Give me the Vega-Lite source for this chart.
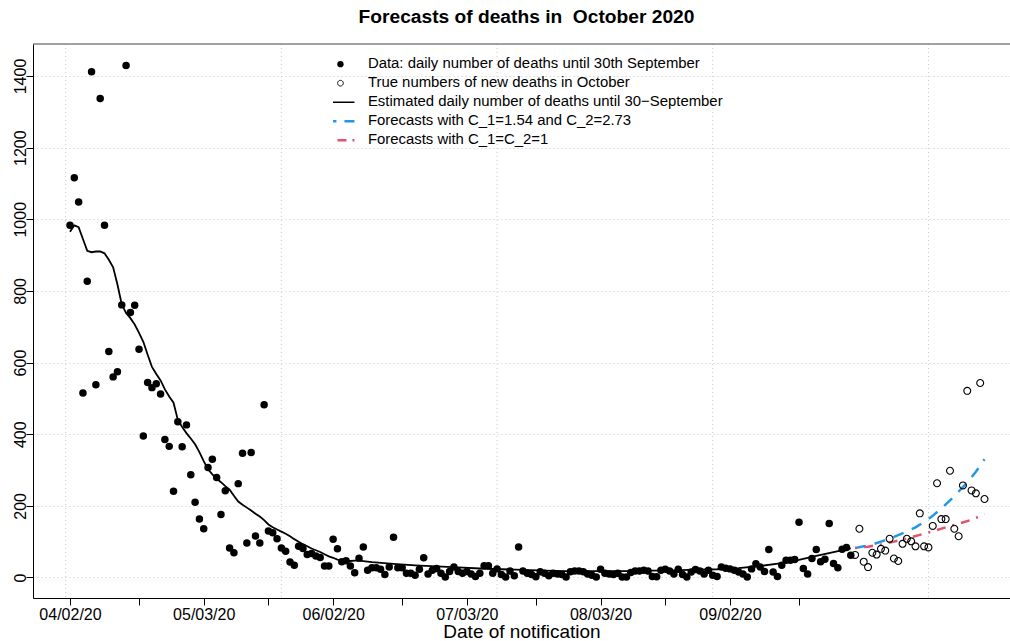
{
  "$schema": "https://vega.github.io/schema/vega-lite/v6.json",
  "width": 977,
  "height": 554,
  "autosize": {"type": "none"},
  "padding": {"left": 33, "top": 44, "right": 0, "bottom": 43},
  "background": "white",
  "config": {"view": {"stroke": null}, "font": "Liberation Sans"},
  "title": {"text": "Forecasts of deaths in \u00a0October 2020", "font": "Liberation Sans", "fontSize": 19.2, "fontWeight": "bold", "color": "black", "anchor": "middle", "frame": "group", "dx": 5, "offset": 16},
  "datasets": {
    "obs": [
      {"d":"2020-04-02","n":983},{"d":"2020-04-03","n":1116},{"d":"2020-04-04","n":1048},{"d":"2020-04-05","n":515},{"d":"2020-04-06","n":827},{"d":"2020-04-07","n":1412},{"d":"2020-04-08","n":538},{"d":"2020-04-09","n":1337},{"d":"2020-04-10","n":983},{"d":"2020-04-11","n":631},{"d":"2020-04-12","n":560},{"d":"2020-04-13","n":574},{"d":"2020-04-14","n":761},{"d":"2020-04-15","n":1429},{"d":"2020-04-16","n":740},{"d":"2020-04-17","n":760},{"d":"2020-04-18","n":637},{"d":"2020-04-19","n":395},{"d":"2020-04-20","n":544},{"d":"2020-04-21","n":530},{"d":"2020-04-22","n":541},{"d":"2020-04-23","n":512},{"d":"2020-04-24","n":385},{"d":"2020-04-25","n":366},{"d":"2020-04-26","n":241},{"d":"2020-04-27","n":435},{"d":"2020-04-28","n":365},{"d":"2020-04-29","n":426},{"d":"2020-04-30","n":287},
      {"d":"2020-05-01","n":210},{"d":"2020-05-02","n":163},{"d":"2020-05-03","n":136},{"d":"2020-05-04","n":307},{"d":"2020-05-05","n":330},{"d":"2020-05-06","n":279},{"d":"2020-05-07","n":176},{"d":"2020-05-08","n":242},{"d":"2020-05-09","n":82},{"d":"2020-05-10","n":69},{"d":"2020-05-11","n":262},{"d":"2020-05-12","n":347},{"d":"2020-05-13","n":96},{"d":"2020-05-14","n":349},{"d":"2020-05-15","n":116},{"d":"2020-05-16","n":96},{"d":"2020-05-17","n":482},{"d":"2020-05-18","n":130},{"d":"2020-05-19","n":125},{"d":"2020-05-20","n":108},{"d":"2020-05-21","n":82},{"d":"2020-05-22","n":73},{"d":"2020-05-23","n":43},{"d":"2020-05-24","n":34},{"d":"2020-05-25","n":87},{"d":"2020-05-26","n":81},{"d":"2020-05-27","n":64},{"d":"2020-05-28","n":67},{"d":"2020-05-29","n":60},{"d":"2020-05-30","n":56},{"d":"2020-05-31","n":32},
      {"d":"2020-06-01","n":32},{"d":"2020-06-02","n":107},{"d":"2020-06-03","n":80},{"d":"2020-06-04","n":44},{"d":"2020-06-05","n":47},{"d":"2020-06-06","n":32},{"d":"2020-06-07","n":13},{"d":"2020-06-08","n":54},{"d":"2020-06-09","n":85},{"d":"2020-06-10","n":20},{"d":"2020-06-11","n":27},{"d":"2020-06-12","n":27},{"d":"2020-06-13","n":23},{"d":"2020-06-14","n":8},{"d":"2020-06-15","n":29},{"d":"2020-06-16","n":112},{"d":"2020-06-17","n":27},{"d":"2020-06-18","n":27},{"d":"2020-06-19","n":12},{"d":"2020-06-20","n":12},{"d":"2020-06-21","n":6},{"d":"2020-06-22","n":23},{"d":"2020-06-23","n":55},{"d":"2020-06-24","n":10},{"d":"2020-06-25","n":20},{"d":"2020-06-26","n":25},{"d":"2020-06-27","n":12},{"d":"2020-06-28","n":1},{"d":"2020-06-29","n":17},{"d":"2020-06-30","n":29},
      {"d":"2020-07-01","n":17},{"d":"2020-07-02","n":12},{"d":"2020-07-03","n":17},{"d":"2020-07-04","n":10},{"d":"2020-07-05","n":3},{"d":"2020-07-06","n":12},{"d":"2020-07-07","n":33},{"d":"2020-07-08","n":33},{"d":"2020-07-09","n":12},{"d":"2020-07-10","n":24},{"d":"2020-07-11","n":8},{"d":"2020-07-12","n":1},{"d":"2020-07-13","n":18},{"d":"2020-07-14","n":5},{"d":"2020-07-15","n":85},{"d":"2020-07-16","n":18},{"d":"2020-07-17","n":12},{"d":"2020-07-18","n":8},{"d":"2020-07-19","n":2},{"d":"2020-07-20","n":16},{"d":"2020-07-21","n":12},{"d":"2020-07-22","n":5},{"d":"2020-07-23","n":12},{"d":"2020-07-24","n":10},{"d":"2020-07-25","n":8},{"d":"2020-07-26","n":1},{"d":"2020-07-27","n":16},{"d":"2020-07-28","n":18},{"d":"2020-07-29","n":18},{"d":"2020-07-30","n":16},{"d":"2020-07-31","n":10},
      {"d":"2020-08-01","n":6},{"d":"2020-08-02","n":1},{"d":"2020-08-03","n":23},{"d":"2020-08-04","n":12},{"d":"2020-08-05","n":10},{"d":"2020-08-06","n":8},{"d":"2020-08-07","n":12},{"d":"2020-08-08","n":1},{"d":"2020-08-09","n":1},{"d":"2020-08-10","n":14},{"d":"2020-08-11","n":18},{"d":"2020-08-12","n":18},{"d":"2020-08-13","n":20},{"d":"2020-08-14","n":18},{"d":"2020-08-15","n":3},{"d":"2020-08-16","n":2},{"d":"2020-08-17","n":20},{"d":"2020-08-18","n":23},{"d":"2020-08-19","n":18},{"d":"2020-08-20","n":10},{"d":"2020-08-21","n":23},{"d":"2020-08-22","n":8},{"d":"2020-08-23","n":1},{"d":"2020-08-24","n":15},{"d":"2020-08-25","n":22},{"d":"2020-08-26","n":18},{"d":"2020-08-27","n":10},{"d":"2020-08-28","n":20},{"d":"2020-08-29","n":6},{"d":"2020-08-30","n":3},{"d":"2020-08-31","n":29},
      {"d":"2020-09-01","n":26},{"d":"2020-09-02","n":24},{"d":"2020-09-03","n":20},{"d":"2020-09-04","n":15},{"d":"2020-09-05","n":10},{"d":"2020-09-06","n":1},{"d":"2020-09-07","n":24},{"d":"2020-09-08","n":38},{"d":"2020-09-09","n":29},{"d":"2020-09-10","n":17},{"d":"2020-09-11","n":78},{"d":"2020-09-12","n":15},{"d":"2020-09-13","n":3},{"d":"2020-09-14","n":34},{"d":"2020-09-15","n":48},{"d":"2020-09-16","n":48},{"d":"2020-09-17","n":50},{"d":"2020-09-18","n":154},{"d":"2020-09-19","n":25},{"d":"2020-09-20","n":10},{"d":"2020-09-21","n":53},{"d":"2020-09-22","n":78},{"d":"2020-09-23","n":44},{"d":"2020-09-24","n":51},{"d":"2020-09-25","n":151},{"d":"2020-09-26","n":39},{"d":"2020-09-27","n":27},{"d":"2020-09-28","n":79},{"d":"2020-09-29","n":84},{"d":"2020-09-30","n":62}
    ],
    "oct": [
      {"d":"2020-10-01","n":63},{"d":"2020-10-02","n":136},{"d":"2020-10-03","n":44},{"d":"2020-10-04","n":29},{"d":"2020-10-05","n":69},{"d":"2020-10-06","n":64},{"d":"2020-10-07","n":80},{"d":"2020-10-08","n":75},{"d":"2020-10-09","n":108},{"d":"2020-10-10","n":53},{"d":"2020-10-11","n":46},{"d":"2020-10-12","n":94},{"d":"2020-10-13","n":108},{"d":"2020-10-14","n":101},{"d":"2020-10-15","n":87},{"d":"2020-10-16","n":179},{"d":"2020-10-17","n":87},{"d":"2020-10-18","n":84},{"d":"2020-10-19","n":144},{"d":"2020-10-20","n":263},{"d":"2020-10-21","n":163},{"d":"2020-10-22","n":163},{"d":"2020-10-23","n":298},{"d":"2020-10-24","n":136},{"d":"2020-10-25","n":115},{"d":"2020-10-26","n":257},{"d":"2020-10-27","n":521},{"d":"2020-10-28","n":243},{"d":"2020-10-29","n":235},{"d":"2020-10-30","n":543},{"d":"2020-10-31","n":219}
    ],
    "fit": [
      {"d":"2020-04-02","n":965},{"d":"2020-04-03","n":983},{"d":"2020-04-04","n":978},{"d":"2020-04-05","n":945},{"d":"2020-04-06","n":912},{"d":"2020-04-07","n":908},{"d":"2020-04-08","n":910},{"d":"2020-04-09","n":910},{"d":"2020-04-10","n":905},{"d":"2020-04-11","n":887},{"d":"2020-04-12","n":866},{"d":"2020-04-13","n":818},{"d":"2020-04-14","n":762},{"d":"2020-04-15","n":738},{"d":"2020-04-16","n":724},{"d":"2020-04-17","n":706},{"d":"2020-04-18","n":683},{"d":"2020-04-19","n":658},{"d":"2020-04-20","n":622},{"d":"2020-04-21","n":588},{"d":"2020-04-22","n":568},{"d":"2020-04-23","n":550},{"d":"2020-04-24","n":525},{"d":"2020-04-25","n":505},{"d":"2020-04-26","n":488},{"d":"2020-04-27","n":440},{"d":"2020-04-28","n":420},{"d":"2020-04-29","n":403},{"d":"2020-04-30","n":388},
      {"d":"2020-05-01","n":372},{"d":"2020-05-02","n":350},{"d":"2020-05-03","n":325},{"d":"2020-05-04","n":302},{"d":"2020-05-05","n":288},{"d":"2020-05-06","n":276},{"d":"2020-05-07","n":266},{"d":"2020-05-08","n":255},{"d":"2020-05-09","n":245},{"d":"2020-05-10","n":228},{"d":"2020-05-11","n":212},{"d":"2020-05-12","n":203},{"d":"2020-05-13","n":195},{"d":"2020-05-14","n":187},{"d":"2020-05-15","n":178},{"d":"2020-05-16","n":170},{"d":"2020-05-17","n":160},{"d":"2020-05-18","n":148},{"d":"2020-05-19","n":140},{"d":"2020-05-20","n":134},{"d":"2020-05-21","n":128},{"d":"2020-05-22","n":122},{"d":"2020-05-23","n":115},{"d":"2020-05-24","n":107},{"d":"2020-05-25","n":100},{"d":"2020-05-26","n":93},{"d":"2020-05-27","n":87},{"d":"2020-05-28","n":81},{"d":"2020-05-29","n":76},{"d":"2020-05-30","n":71},{"d":"2020-05-31","n":65},
      {"d":"2020-06-01","n":59},{"d":"2020-06-02","n":55},{"d":"2020-06-03","n":50},{"d":"2020-06-04","n":47},{"d":"2020-06-05","n":46},{"d":"2020-06-06","n":46},{"d":"2020-06-07","n":47},{"d":"2020-06-08","n":47},{"d":"2020-06-11","n":43},{"d":"2020-06-16","n":38},{"d":"2020-06-21","n":34},{"d":"2020-06-26","n":31},{"d":"2020-07-01","n":28},{"d":"2020-07-06","n":25},{"d":"2020-07-11","n":23},{"d":"2020-07-16","n":21},{"d":"2020-07-21","n":19},{"d":"2020-07-26","n":18},{"d":"2020-07-31","n":18},{"d":"2020-08-05","n":18},{"d":"2020-08-10","n":18},{"d":"2020-08-15","n":19},{"d":"2020-08-20","n":20},{"d":"2020-08-25","n":22},{"d":"2020-08-30","n":23},{"d":"2020-09-04","n":26},{"d":"2020-09-09","n":32},{"d":"2020-09-14","n":40},{"d":"2020-09-18","n":49},{"d":"2020-09-22","n":60},{"d":"2020-09-26","n":71},{"d":"2020-09-30","n":81}
    ],
    "f1": [
      {"d":"2020-10-01","n":82},{"d":"2020-10-03","n":87},{"d":"2020-10-05","n":92},{"d":"2020-10-07","n":100},{"d":"2020-10-09","n":108},{"d":"2020-10-11","n":118},{"d":"2020-10-13","n":129},{"d":"2020-10-15","n":140},{"d":"2020-10-17","n":155},{"d":"2020-10-19","n":172},{"d":"2020-10-21","n":193},{"d":"2020-10-23","n":215},{"d":"2020-10-25","n":240},{"d":"2020-10-27","n":265},{"d":"2020-10-29","n":295},{"d":"2020-10-31","n":330}
    ],
    "f2": [
      {"d":"2020-10-01","n":82},{"d":"2020-10-04","n":86},{"d":"2020-10-07","n":92},{"d":"2020-10-10","n":100},{"d":"2020-10-13","n":109},{"d":"2020-10-16","n":119},{"d":"2020-10-19","n":129},{"d":"2020-10-22","n":140},{"d":"2020-10-25","n":150},{"d":"2020-10-28","n":161},{"d":"2020-10-31","n":177}
    ]
  },
  "layer": [
    {
      "data": {"values": [{"d":"2020-04-01"},{"d":"2020-05-21"},{"d":"2020-07-10"},{"d":"2020-08-29"},{"d":"2020-10-18"}]},
      "mark": {"type": "rule", "color": "#C8C8C8", "strokeDash": [1, 3], "strokeWidth": 1},
      "encoding": {
        "x": {"field": "d", "type": "temporal", "title": "Date of notification", "scale": {"type": "utc", "nice": false, "domain": [{"year": 2020, "month": 3, "date": 24, "hours": 10, "minutes": 10, "utc": true}, {"year": 2020, "month": 11, "date": 5, "hours": 21, "minutes": 50, "utc": true}]}}
      }
    },
    {
      "data": {"name": "fit"},
      "mark": {"type": "line", "strokeWidth": 1.8},
      "encoding": {
        "x": {"field": "d", "type": "temporal", "title": "Date of notification", "scale": {"type": "utc", "nice": false, "domain": [{"year": 2020, "month": 3, "date": 24, "hours": 10, "minutes": 10, "utc": true}, {"year": 2020, "month": 11, "date": 5, "hours": 21, "minutes": 50, "utc": true}]}},
        "y": {"field": "n", "type": "quantitative", "title": null, "scale": {"domain": [-57.3, 1489.3], "nice": false, "zero": false}},
        "color": {
          "datum": "Estimated daily number of deaths until 30\u2212September", "type": "nominal",
          "scale": {"domain": ["Data: daily number of deaths until 30th September", "True numbers of new deaths in October", "Estimated daily number of deaths until 30\u2212September", "Forecasts with C_1=1.54 and C_2=2.73", "Forecasts with C_1=C_2=1"], "range": ["black", "black", "black", "#2297E6", "#DF536B"]},
          "legend": {
            "title": null, "orient": "none", "legendX": 300, "legendY": 11, "padding": 0,
            "symbolSize": 784, "symbolStrokeWidth": 0, "symbolType": "stroke",
            "labelFont": "Liberation Sans", "labelFontSize": 14.9, "labelColor": "black", "labelOffset": 20, "labelLimit": 700,
            "clipHeight": 18.3, "rowPadding": 0,
            "encode": {
              "symbols": {
                "update": {
                  "shape": {"signal": "datum.value == 'Data: daily number of deaths until 30th September' || datum.value == 'True numbers of new deaths in October' ? 'circle' : 'stroke'"},
                  "size": {"signal": "datum.value == 'Data: daily number of deaths until 30th September' ? 40 : datum.value == 'True numbers of new deaths in October' ? 32 : 784"},
                  "fill": {"signal": "datum.value == 'Data: daily number of deaths until 30th September' ? 'black' : 'transparent'"},
                  "fillOpacity": {"signal": "datum.value == 'Data: daily number of deaths until 30th September' ? 1 : 0"},
                  "stroke": {"signal": "datum.value == 'True numbers of new deaths in October' ? '#9a9a9a' : datum.value == 'Forecasts with C_1=1.54 and C_2=2.73' ? '#2297E6' : datum.value == 'Forecasts with C_1=C_2=1' ? '#DF536B' : 'black'"},
                  "strokeWidth": {"signal": "datum.value == 'Data: daily number of deaths until 30th September' ? 0 : datum.value == 'True numbers of new deaths in October' ? 1 : datum.value == 'Forecasts with C_1=1.54 and C_2=2.73' || datum.value == 'Forecasts with C_1=C_2=1' ? 2.5 : 1.5"},
                  "strokeDash": {"signal": "datum.value == 'Forecasts with C_1=1.54 and C_2=2.73' ? [10,8] : datum.value == 'Forecasts with C_1=C_2=1' ? [2,9,9,6] : [1,0]"},
                  "opacity": {"value": 1}
                }
              }
            }
          }
        }
      }
    },
    {
      "data": {"name": "f1"},
      "mark": {"type": "line", "strokeWidth": 2.5, "strokeDash": [11, 9]},
      "encoding": {
        "x": {"field": "d", "type": "temporal", "title": "Date of notification", "scale": {"type": "utc", "nice": false, "domain": [{"year": 2020, "month": 3, "date": 24, "hours": 10, "minutes": 10, "utc": true}, {"year": 2020, "month": 11, "date": 5, "hours": 21, "minutes": 50, "utc": true}]}},
        "y": {"field": "n", "type": "quantitative", "title": null, "scale": {"domain": [-57.3, 1489.3], "nice": false, "zero": false}},
        "color": {"datum": "Forecasts with C_1=1.54 and C_2=2.73", "type": "nominal"}
      }
    },
    {
      "data": {"name": "f2"},
      "mark": {"type": "line", "strokeWidth": 2.5, "strokeDash": [2, 7, 9, 7]},
      "encoding": {
        "x": {"field": "d", "type": "temporal", "title": "Date of notification", "scale": {"type": "utc", "nice": false, "domain": [{"year": 2020, "month": 3, "date": 24, "hours": 10, "minutes": 10, "utc": true}, {"year": 2020, "month": 11, "date": 5, "hours": 21, "minutes": 50, "utc": true}]}},
        "y": {"field": "n", "type": "quantitative", "title": null, "scale": {"domain": [-57.3, 1489.3], "nice": false, "zero": false}},
        "color": {"datum": "Forecasts with C_1=C_2=1", "type": "nominal"}
      }
    },
    {
      "data": {"name": "obs"},
      "mark": {"type": "point", "filled": true, "shape": "circle", "size": 56, "opacity": 1, "strokeWidth": 0},
      "encoding": {
        "x": {
          "field": "d", "type": "temporal", "title": "Date of notification",
          "scale": {"type": "utc", "nice": false, "domain": [{"year": 2020, "month": 3, "date": 24, "hours": 10, "minutes": 10, "utc": true}, {"year": 2020, "month": 11, "date": 5, "hours": 21, "minutes": 50, "utc": true}]},
          "axis": {
            "values": [
              {"year": 2020, "month": 4, "date": 2, "utc": true}, {"year": 2020, "month": 4, "date": 18, "utc": true},
              {"year": 2020, "month": 5, "date": 3, "utc": true}, {"year": 2020, "month": 5, "date": 18, "utc": true},
              {"year": 2020, "month": 6, "date": 2, "utc": true}, {"year": 2020, "month": 6, "date": 18, "utc": true},
              {"year": 2020, "month": 7, "date": 3, "utc": true}, {"year": 2020, "month": 7, "date": 19, "utc": true},
              {"year": 2020, "month": 8, "date": 3, "utc": true}, {"year": 2020, "month": 8, "date": 18, "utc": true},
              {"year": 2020, "month": 9, "date": 2, "utc": true}, {"year": 2020, "month": 9, "date": 18, "utc": true}
            ],
            "labelExpr": "utcdate(datum.value) < 10 ? utcFormat(datum.value, '%m/%d/%y') : ''",
            "grid": false, "domain": true, "domainColor": "black", "domainWidth": 1,
            "ticks": true, "tickColor": "black", "tickSize": 7, "tickWidth": 1,
            "labelFont": "Liberation Sans", "labelFontSize": 16, "labelColor": "black", "labelPadding": 1, "labelOverlap": false, "labelFlush": false,
            "titleFont": "Liberation Sans", "titleFontSize": 19, "titleFontWeight": "normal", "titleColor": "black", "titlePadding": 0
          }
        },
        "y": {
          "field": "n", "type": "quantitative", "title": null,
          "scale": {"domain": [-57.3, 1489.3], "nice": false, "zero": false},
          "axis": {
            "values": [0, 200, 400, 600, 800, 1000, 1200, 1400],
            "format": "d",
            "grid": true, "gridColor": "#C8C8C8", "gridDash": [1, 3], "gridWidth": 1,
            "domain": true, "domainColor": "black", "domainWidth": 1,
            "ticks": true, "tickColor": "black", "tickSize": 7, "tickWidth": 1,
            "labelFont": "Liberation Sans", "labelFontSize": 16, "labelColor": "black",
            "labelAngle": 270, "labelAlign": "center", "labelBaseline": "alphabetic", "labelPadding": 1
          }
        },
        "color": {"datum": "Data: daily number of deaths until 30th September", "type": "nominal"}
      }
    },
    {
      "data": {"name": "oct"},
      "mark": {"type": "point", "filled": false, "shape": "circle", "size": 48, "opacity": 1, "strokeWidth": 1.1},
      "encoding": {
        "x": {"field": "d", "type": "temporal", "title": "Date of notification", "scale": {"type": "utc", "nice": false, "domain": [{"year": 2020, "month": 3, "date": 24, "hours": 10, "minutes": 10, "utc": true}, {"year": 2020, "month": 11, "date": 5, "hours": 21, "minutes": 50, "utc": true}]}},
        "y": {"field": "n", "type": "quantitative", "title": null, "scale": {"domain": [-57.3, 1489.3], "nice": false, "zero": false}},
        "color": {"datum": "True numbers of new deaths in October", "type": "nominal"}
      }
    },
    {
      "data": {"values": [{}]},
      "mark": {"type": "rule", "color": "#444444", "strokeWidth": 1},
      "encoding": {
        "y": {"datum": 1489.3, "type": "quantitative", "title": null, "scale": {"domain": [-57.3, 1489.3], "nice": false, "zero": false}}
      }
    }
  ]
}
